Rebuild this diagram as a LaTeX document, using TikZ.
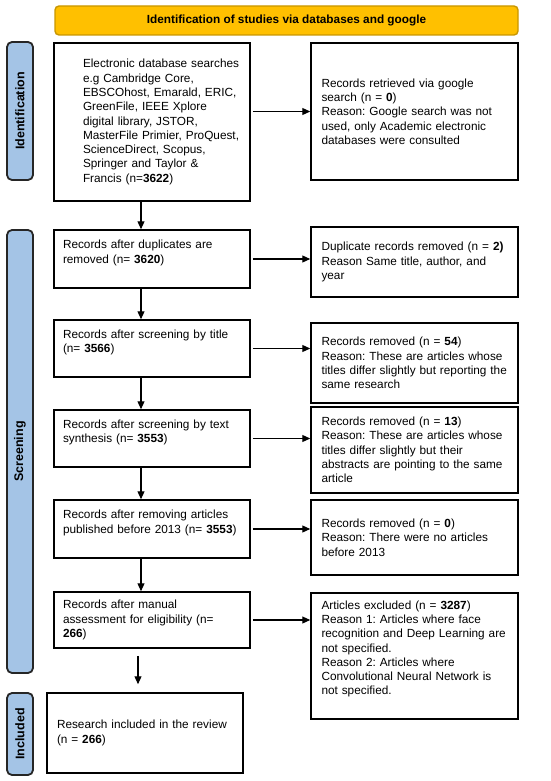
\documentclass[tikz,border=0pt]{standalone}
\usepackage{fontspec}
\setmainfont{Liberation Sans}
\usetikzlibrary{arrows.meta}
\frenchspacing

\newcommand{\boxfont}{\fontsize{11.8}{14.3}\selectfont}

\tikzset{
  box/.style={draw, line width=1.5pt, rectangle, align=left, font=\boxfont, inner sep=3pt},
  leftbox/.style={box, minimum width=196pt, text width=190pt, execute at begin node={\leftskip=#1}},
  rightbox/.style={box, minimum width=207pt, text width=196pt, execute at begin node={\leftskip=5pt}},
  lift/.style={execute at end node={\par\kern#1}},
  side/.style={draw=black!85, line width=1.8pt, fill=sideblue, rounded corners=5pt, rotate=90,
    font=\fontsize{12.5}{14}\selectfont\bfseries, minimum height=26pt},
  arr/.style={line width=1.1pt, -{Triangle[length=8pt,width=7pt]}}
}

\begin{document}
\begin{tikzpicture}[x=1pt, y=-1pt]
    % Define colors
    \definecolor{titlegold}{RGB}{255,192,0}
    \definecolor{titleedge}{RGB}{200,150,0}
    \definecolor{sideblue}{RGB}{164,196,230}

    \useasboundingbox (0,0) rectangle (550,781);

    % Title bar
    \node[draw=titleedge, line width=1.4pt, fill=titlegold, rounded corners=4pt,
      minimum width=463pt, minimum height=29pt, font=\boxfont\bfseries]
      (title) at (286.5,20.5) {Identification of studies via databases and google};

    % Stage labels
    \node[side, minimum width=138pt] (ident) at (20,111) {Identification};
    \node[side, minimum width=443pt] (screen) at (20,451.5) {Screening};
    \node[side, minimum width=82pt] (incl) at (20,734) {Included};

    % Left column
    \node[leftbox=26pt, minimum height=158pt] (b1) at (152,122)
      {Electronic database searches\\ e.g Cambridge Core,\\ EBSCOhost, Emarald, ERIC,\\ GreenFile, IEEE Xplore\\ digital library, JSTOR,\\ MasterFile Primier, ProQuest,\\ ScienceDirect, Scopus,\\ Springer and Taylor \&\\ Francis (n=\textbf{3622})};
    \node[leftbox=6pt, lift=12pt, minimum height=58pt] (b2) at (152,259)
      {Records after duplicates are\\ removed (n= \textbf{3620})};
    \node[leftbox=6pt, lift=12pt, minimum height=57pt] (b3) at (152,348.5)
      {Records after screening by title\\ (n= \textbf{3566})};
    \node[leftbox=6pt, lift=12pt, minimum height=57pt] (b4) at (152,438.5)
      {Records after screening by text\\ synthesis (n= \textbf{3553})};
    \node[leftbox=6pt, lift=12pt, minimum height=58pt] (b5) at (152,529)
      {Records after removing articles\\ published before 2013 (n= \textbf{3553})};
    \node[leftbox=6pt, minimum height=56pt] (b6) at (152,620)
      {Records after manual\\ assessment for eligibility (n=\\ \textbf{266})};
    \node[leftbox=7pt, minimum height=80pt] (b7) at (145,733)
      {Research included in the review\\ (n = \textbf{266})};

    % Right column
    \node[rightbox, minimum height=137pt] (r1) at (414.5,111.5)
      {Records retrieved via google\\ search (n = \textbf{0})\\ Reason: Google search was not\\ used, only Academic electronic\\ databases were consulted};
    \node[rightbox, minimum height=70pt] (r2) at (414.5,262)
      {Duplicate records removed (n = \textbf{2)}\\ Reason Same title, author, and\\ year};
    \node[rightbox, minimum height=80pt] (r3) at (414.5,363)
      {Records removed (n = \textbf{54})\\ Reason: These are articles whose\\ titles differ slightly but reporting the\\ same research};
    \node[rightbox, minimum height=86pt] (r4) at (414.5,450)
      {Records removed (n = \textbf{13})\\ Reason: These are articles whose\\ titles differ slightly but their\\ abstracts are pointing to the same\\ article};
    \node[rightbox, minimum height=75pt] (r5) at (414.5,537.5)
      {Records removed (n = \textbf{0})\\ Reason: There were no articles\\ before 2013};
    \node[rightbox, lift=14pt, minimum height=126pt] (r6) at (414.5,656)
      {Articles excluded (n = \textbf{3287})\\ Reason 1: Articles where face\\ recognition and Deep Learning are\\ not specified.\\ Reason 2: Articles where\\ Convolutional Neural Network is\\ not specified.};

    % Arrows down the left column
    \foreach \a/\b in {b1/b2, b2/b3, b3/b4, b4/b5, b5/b6}
        {
        \draw[arr] ([xshift=-11pt]\a.south) -- ([xshift=-11pt]\a.south |- \b.north);
    }
    \draw[arr, shorten <=7pt, shorten >=8pt] ([xshift=-14pt]b6.south) -- ([xshift=-14pt]b6.south |- b7.north);

    % Arrows to the right column
    \draw[arr, shorten <=2pt] (b1.east |- r1.west) -- (r1.west);
    \foreach \n in {2,...,6}
        {
        \draw[arr, shorten <=2pt] (b\n.east) -- (b\n.east -| r\n.west);
    }
\end{tikzpicture}
\end{document}
